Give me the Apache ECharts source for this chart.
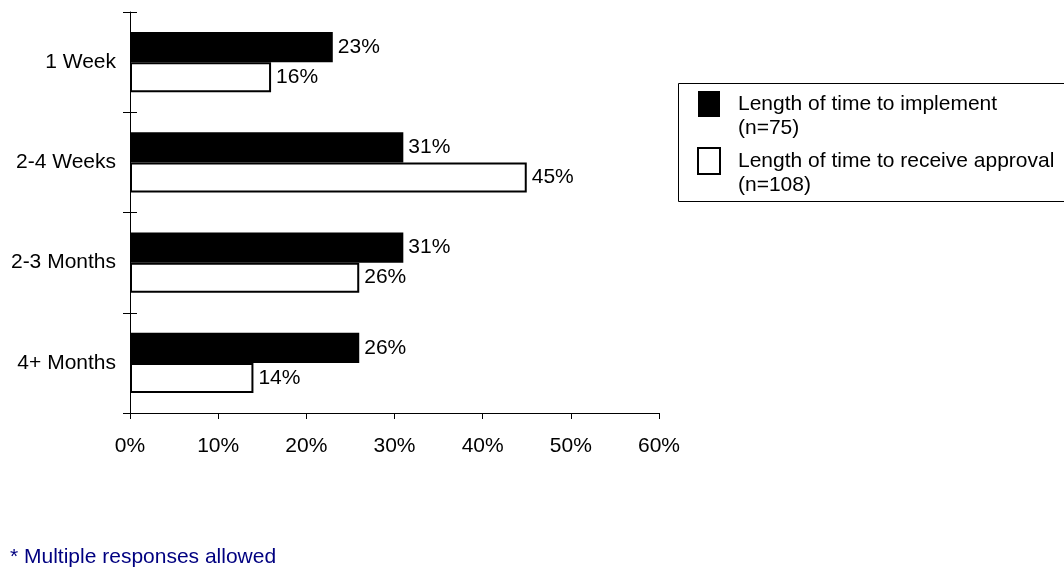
<!DOCTYPE html>
<html><head><meta charset="utf-8">
<script src="https://cdn.jsdelivr.net/npm/echarts@6/dist/echarts.min.js"></script>
<style>html,body{margin:0;padding:0;background:#fff}#c{width:1064px;height:572px}</style>
</head><body><div id="c"></div>
<script>
const categories = ['1 Week', '2-4 Weeks', '2-3 Months', '4+ Months'];
const implementValues = [23, 31, 31, 26];
const approvalValues = [16, 45, 26, 14];
const seriesNames = ['Length of time to implement', 'Length of time to receive approval'];
const seriesN = ['(n=75)', '(n=108)'];
const xTicks = [0, 10, 20, 30, 40, 50, 60];
const footnote = '* Multiple responses allowed';

const font = 'Liberation Sans, Arial, sans-serif';
const FS = 21;
const chart = echarts.init(document.getElementById('c'));
const lbl = {show: true, position: 'right', distance: 5, color: '#000', fontFamily: font, fontSize: FS, formatter: p => p.value + '%'};
chart.setOption({
  animation: false,
  grid: {left: 130, right: 405, top: 12, bottom: 159, containLabel: false},
  xAxis: {type: 'value', min: xTicks[0], max: xTicks[xTicks.length - 1], interval: 10,
    axisLine: {show: true, lineStyle: {color: '#000', width: 1}},
    axisTick: {show: true, length: 6, lineStyle: {color: '#000'}},
    splitLine: {show: false},
    axisLabel: {margin: 23, color: '#000', fontFamily: font, fontSize: FS, formatter: v => v + '%'}},
  yAxis: [{type: 'category', data: categories, inverse: true,
    axisLine: {show: true, lineStyle: {color: '#000', width: 1}},
    axisTick: {show: true, length: 7, lineStyle: {color: '#000'}},
    axisLabel: {margin: 14, color: '#000', fontFamily: font, fontSize: FS}},
    {type: 'category', data: categories, inverse: true, position: 'left',
    axisLine: {show: false}, axisTick: {show: true, inside: true, length: 7, lineStyle: {color: '#000'}},
    axisLabel: {show: false}}],
  legend: {orient: 'vertical', left: 697, top: 68, padding: 0, itemGap: -15,
    itemWidth: 22, itemHeight: 26, icon: 'rect',
    formatter: name => '\n' + name + '\n' + seriesN[seriesNames.indexOf(name)],
    textStyle: {color: '#000', fontFamily: font, fontSize: FS, lineHeight: 24, padding: [0, 0, 0, 13]},
    data: seriesNames},
  series: [
    {name: seriesNames[0], type: 'bar', data: implementValues, barCategoryGap: '40%', barGap: '0%',
      itemStyle: {color: '#000'}, label: lbl},
    {name: seriesNames[1], type: 'bar', data: approvalValues,
      itemStyle: {color: '#fff', borderColor: '#000', borderWidth: 2}, label: lbl}
  ],
  graphic: [
    {type: 'rect', shape: {x: 678.5, y: 83.5, width: 400, height: 118}, style: {fill: 'none', stroke: '#000', lineWidth: 1}, silent: true},
    {type: 'text', left: 10, top: 547, style: {text: footnote, fill: '#000080', font: FS + 'px ' + font}}]
});
</script></body></html>
